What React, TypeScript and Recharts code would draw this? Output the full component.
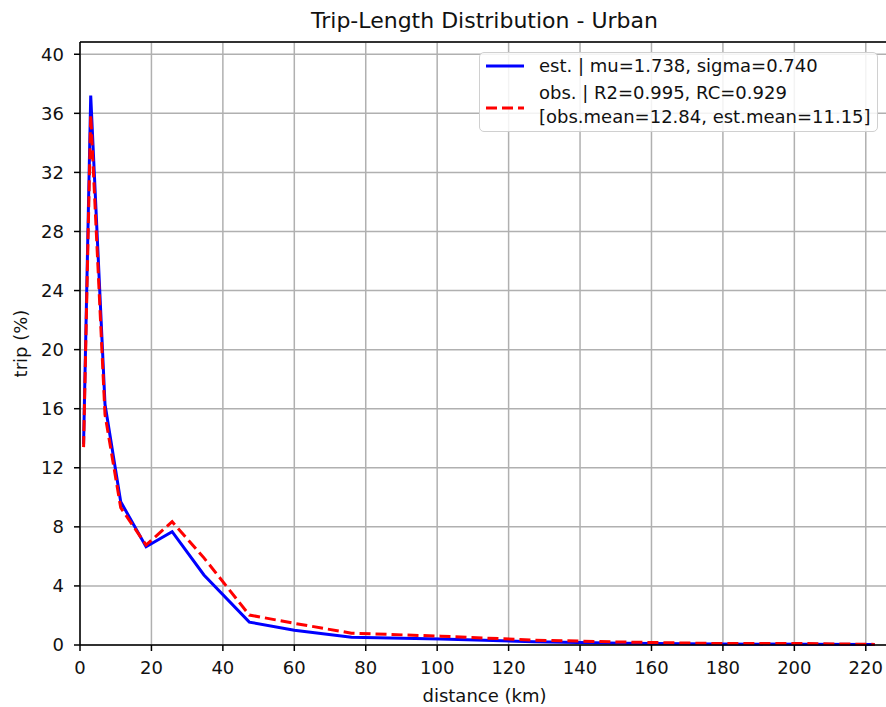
import React from "react";
import { CartesianGrid, Line, LineChart, ReferenceLine, XAxis, YAxis } from "recharts";

const distance = [1, 3, 7, 11.4, 18.5, 25.8, 34.7, 47.4, 60, 76, 101, 127, 152, 178, 203, 222.5];
const estPct = [13.6, 37.2, 16.3, 9.7, 6.65, 7.67, 4.74, 1.55, 1.0, 0.52, 0.4, 0.22, 0.12, 0.07, 0.05, 0.03];
const obsPct = [13.4, 35.9, 15.6, 9.3, 6.77, 8.35, 5.9, 2.03, 1.47, 0.8, 0.6, 0.33, 0.2, 0.1, 0.1, 0.04];

const xTicks = [0, 20, 40, 60, 80, 100, 120, 140, 160, 180, 200, 220];
const yTicks = [0, 4, 8, 12, 16, 20, 24, 28, 32, 36, 40];
const X_MAX = 226.5;
const Y_MAX = 40.83;

const legendLines = [
  "est. | mu=1.738, sigma=0.740",
  "obs. | R2=0.995, RC=0.929",
  "[obs.mean=12.84, est.mean=11.15]",
];

const FONT = "'DejaVu Sans', sans-serif";
const TICK = { fill: "#111", fontSize: 18, fontFamily: FONT };

const rows = distance.map((d, i) => ({ d, est: estPct[i], obs: obsPct[i] }));

export default function App() {
  return (
    <div
      style={{
        position: "absolute",
        left: 0,
        top: 0,
        width: 886,
        height: 707,
        overflow: "hidden",
        background: "#fff",
        fontFamily: FONT,
      }}
    >
      <LineChart width={900} height={707} data={rows} margin={{ top: 42, right: 11, bottom: 0, left: 0 }}>
        <CartesianGrid stroke="#b0b0b0" strokeWidth={1.5} />
        <XAxis
          type="number"
          dataKey="d"
          domain={[0, X_MAX]}
          ticks={xTicks}
          height={62}
          tick={TICK}
          tickSize={6}
          tickMargin={10}
          axisLine={{ stroke: "#000", strokeWidth: 1.5 }}
          tickLine={{ stroke: "#000", strokeWidth: 1.5 }}
          interval={0}
        />
        <YAxis
          type="number"
          domain={[0, Y_MAX]}
          ticks={yTicks}
          width={80}
          tick={TICK}
          tickSize={6}
          tickMargin={10}
          axisLine={{ stroke: "#000", strokeWidth: 1.5 }}
          tickLine={{ stroke: "#000", strokeWidth: 1.5 }}
          interval={0}
        />
        <ReferenceLine y={Y_MAX} stroke="#000" strokeWidth={1.5} />
        <Line
          dataKey="est"
          stroke="#0000ff"
          strokeWidth={3}
          dot={false}
          isAnimationActive={false}
        />
        <Line
          dataKey="obs"
          stroke="#ff0000"
          strokeWidth={3}
          strokeDasharray="11 5"
          dot={false}
          isAnimationActive={false}
        />
      </LineChart>

      <svg width={886} height={707} style={{ position: "absolute", left: 0, top: 0, pointerEvents: "none" }}>
        <text x={484.5} y={28} textAnchor="middle" fontSize={22} fill="#111" fontFamily={FONT}>
          Trip-Length Distribution - Urban
        </text>
        <text x={484.5} y={702} textAnchor="middle" fontSize={18} fill="#111" fontFamily={FONT}>
          distance (km)
        </text>
        <text
          x={0}
          y={0}
          transform="translate(27 343.5) rotate(-90)"
          textAnchor="middle"
          fontSize={18}
          fill="#111"
          fontFamily={FONT}
        >
          trip (%)
        </text>
      </svg>

      <div
        style={{
          position: "absolute",
          left: 479,
          top: 52,
          width: 399,
          height: 80,
          boxSizing: "border-box",
          border: "1.5px solid #d0d0d0",
          borderRadius: 5,
          background: "rgba(255,255,255,0.85)",
        }}
      >
        <svg width={399} height={80} style={{ position: "absolute", left: 0, top: 0 }}>
          <line x1={6} x2={44} y1={13} y2={13} stroke="#0000ff" strokeWidth={3} />
          <line x1={6} x2={44} y1={55} y2={55} stroke="#ff0000" strokeWidth={3} strokeDasharray="11 5" />
          {legendLines.map((t, i) => (
            <text key={t} x={59} y={[19, 46, 70][i]} fontSize={18} fill="#111" fontFamily={FONT}>
              {t}
            </text>
          ))}
        </svg>
      </div>
    </div>
  );
}
